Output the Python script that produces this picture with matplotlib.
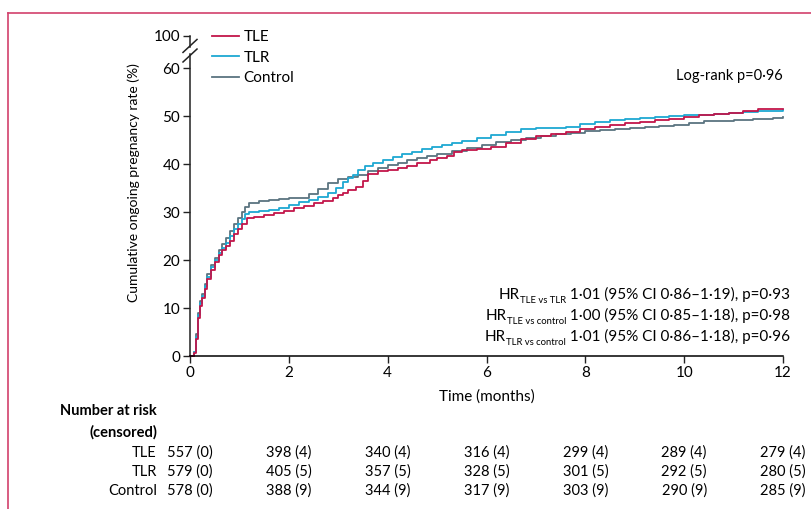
import matplotlib
matplotlib.use("Agg")
import matplotlib.pyplot as plt
from matplotlib.lines import Line2D
from matplotlib.transforms import blended_transform_factory
import numpy as np

plt.rcParams['font.family'] = ['Lato', 'DejaVu Sans']

# ---------------- data ----------------
tle_t = [0, 0.08, 0.12, 0.16, 0.2, 0.25, 0.3, 0.35, 0.42, 0.5, 0.58, 0.65, 0.73, 0.81, 0.9, 0.97,
         1.05, 1.15, 1.3, 1.5, 1.7, 1.9, 2.1, 2.3, 2.5, 2.7, 2.9, 3.0, 3.1, 3.2, 3.35, 3.5, 3.6,
         3.8, 4.0, 4.2, 4.4, 4.6, 4.85, 5.0, 5.2, 5.35, 5.5, 5.8, 6.1, 6.4, 6.7, 7.0, 7.3, 7.6,
         7.9, 8.2, 8.5, 8.8, 9.1, 9.4, 9.7, 10.0, 10.3, 10.6, 10.9, 11.2, 11.5, 12]
tle_v = [0, 0.6, 3.5, 8, 10.5, 12, 14, 16, 18, 19.5, 21, 22, 23, 24, 25.5, 26.5,
         27.5, 28.7, 29, 29.3, 29.8, 30.3, 30.8, 31.2, 31.8, 32.3, 32.9, 33.5, 34, 34.6, 35.3, 36.5, 38,
         38.5, 38.8, 39.1, 39.6, 40.2, 40.8, 41.2, 41.6, 42.4, 42.9, 43.2, 43.6, 44.3, 45.3, 45.8, 46.2, 46.7,
         47.2, 47.7, 48.2, 48.5, 48.8, 49.2, 49.4, 49.8, 50.2, 50.5, 50.7, 51.1, 51.4, 51.5]

tlr_t = [0, 0.08, 0.12, 0.16, 0.2, 0.25, 0.3, 0.35, 0.42, 0.5, 0.58, 0.65, 0.73, 0.81, 0.9, 0.97,
         1.05, 1.12, 1.2, 1.4, 1.6, 1.8, 2.0, 2.2, 2.4, 2.6, 2.8, 2.95, 3.1, 3.2, 3.3, 3.4, 3.55,
         3.7, 3.9, 4.1, 4.3, 4.5, 4.7, 4.9, 5.1, 5.3, 5.5, 5.8, 6.1, 6.4, 6.7, 7.0, 7.3, 7.6,
         7.9, 8.2, 8.5, 8.8, 9.1, 9.4, 9.7, 10.0, 10.3, 10.6, 10.9, 11.2, 11.5, 12]
tlr_v = [0, 0.8, 4, 8.5, 11, 12.5, 14.5, 16.5, 18.5, 20, 21.5, 22.5, 23.5, 25, 26.5, 27.5,
         28.5, 29.5, 30, 30.2, 30.4, 30.8, 31.5, 32, 32.5, 33.2, 34, 35, 36.2, 37, 37.7, 38.7, 39.5,
         40.3, 40.8, 41.5, 42, 42.6, 43.1, 43.6, 44, 44.4, 44.8, 45.4, 46, 46.6, 47.2, 47.5, 47.6, 47.8,
         48.3, 48.8, 49.2, 49.3, 49.5, 49.8, 50, 50.2, 50.3, 50.4, 50.6, 50.9, 51.1, 51.2]

ctl_t = [0, 0.08, 0.12, 0.16, 0.2, 0.25, 0.3, 0.35, 0.42, 0.5, 0.58, 0.65, 0.73, 0.81, 0.9, 0.97,
         1.05, 1.12, 1.2, 1.4, 1.6, 1.8, 2.0, 2.2, 2.4, 2.6, 2.8, 3.0, 3.2, 3.4, 3.6, 3.8, 4.0,
         4.2, 4.4, 4.6, 4.8, 5.0, 5.3, 5.6, 5.9, 6.2, 6.5, 6.8, 7.1, 7.4, 7.7, 8.0, 8.3, 8.6,
         8.9, 9.2, 9.5, 9.8, 10.1, 10.4, 10.7, 11.0, 11.4, 11.8, 12]
ctl_v = [0, 0.8, 4.5, 9, 11.5, 13, 15, 17, 19, 20.5, 22, 23.3, 24.5, 26, 27.5, 28.8,
         30, 31, 31.8, 32.2, 32.5, 32.7, 32.9, 33, 33.8, 34.8, 36, 36.8, 37.2, 37.7, 38.5, 39.2, 39.8,
         40.2, 40.8, 41.3, 41.7, 42.1, 42.8, 43.4, 44, 44.5, 45, 45.5, 45.9, 46.2, 46.5, 46.8, 47.1, 47.3,
         47.5, 47.7, 48, 48.2, 48.6, 48.9, 49, 49.2, 49.3, 49.6, 49.8]

group_names = ["TLE", "TLR", "Control"]
risk_times = [0, 2, 4, 6, 8, 10, 12]
at_risk_tle = [557, 398, 340, 316, 299, 289, 279]
cens_tle = [0, 4, 4, 4, 4, 4, 4]
at_risk_tlr = [579, 405, 357, 328, 301, 292, 280]
cens_tlr = [0, 5, 5, 5, 5, 5, 5]
at_risk_ctl = [578, 388, 344, 317, 303, 290, 285]
cens_ctl = [0, 9, 9, 9, 9, 9, 9]

ytick_vals = [0, 10, 20, 30, 40, 50, 60]
ytick_top_label = "100"
hr_subs = ["TLE vs TLR", "TLE vs control", "TLR vs control"]
hr_rest = [" 1·01 (95% CI 0·86–1·19), p=0·93",
           " 1·00 (95% CI 0·85–1·18), p=0·98",
           " 1·01 (95% CI 0·86–1·18), p=0·96"]

# ---------------- figure ----------------
W, H = 811, 509
fig = plt.figure(figsize=(W / 100, H / 100), dpi=100)
x0, x1 = 190, 783
yb, yt = 356, 35.5
ax = fig.add_axes([x0 / W, 1 - yb / H, (x1 - x0) / W, (yb - yt) / H])
px_per_unit = 4.8
Y100 = (yb - yt) / px_per_unit   # position of broken "100"
ax.set_xlim(0, 12)
ax.set_ylim(0, Y100)

c_tle = '#c3164a'
c_tlr = '#1ea8d2'
c_ctl = '#5b7480'
fs = 10.5

ax.plot(ctl_t, ctl_v, drawstyle='steps-post', color=c_ctl, lw=1.3, clip_on=False)
ax.plot(tlr_t, tlr_v, drawstyle='steps-post', color=c_tlr, lw=1.3, clip_on=False)
ax.plot(tle_t, tle_v, drawstyle='steps-post', color=c_tle, lw=1.3, clip_on=False)

for s in ['top', 'right', 'left']:
    ax.spines[s].set_visible(False)
ax.spines['bottom'].set_linewidth(1.1)

ax.set_xticks(risk_times)
ax.set_yticks(ytick_vals + [Y100])
ax.set_yticklabels([str(v) for v in ytick_vals] + [ytick_top_label])
ax.tick_params(direction='out', length=5, width=1, labelsize=fs + 0.5, pad=2, color='#222222')

# broken y axis spine
ytr = blended_transform_factory(ax.transAxes, ax.transData)
brk_lo, brk_hi = 62.6, 64.6
ax.add_line(Line2D([0, 0], [0, brk_lo + 0.3], transform=ytr, color='#222222', lw=1.1, clip_on=False))
ax.add_line(Line2D([0, 0], [brk_hi - 0.3, Y100], transform=ytr, color='#222222', lw=1.1, clip_on=False))
dx = 7 / (x1 - x0)
dy = 1.35
for yc in (brk_lo, brk_hi):
    ax.add_line(Line2D([-dx, dx], [yc - dy, yc + dy], transform=ytr, color='#222222', lw=1.1, clip_on=False))

ax.set_ylabel("Cumulative ongoing pregnancy rate (%)", fontsize=10)
ax.yaxis.set_label_coords((140 - x0) / (x1 - x0), (yb - 183) / (yb - yt))
ax.set_xlabel("Time (months)", fontsize=fs + 0.5, labelpad=7)

# legend
leg_handles = [Line2D([], [], color=c, lw=1.3) for c in (c_tle, c_tlr, c_ctl)]
ax.legend(leg_handles, group_names, loc='upper left', bbox_to_anchor=(16 / (x1 - x0), 1.035),
          frameon=False, fontsize=fs + 0.5, handlelength=1.75, handletextpad=0.3, labelspacing=0.42,
          borderaxespad=0)

ax.text(1.0, 1 - (76 - yt) / (yb - yt), "Log-rank p=0·96", transform=ax.transAxes,
        ha='right', va='center', fontsize=fs)

# HR lines
hr_ypix = [299, 320, 341]
for sub, rest, yp in zip(hr_subs, hr_rest, hr_ypix):
    ya = (yb - yp) / (yb - yt)
    t_rest = ax.text(1.012, ya, rest, transform=ax.transAxes, ha='right', va='baseline', fontsize=11)
    t_sub = ax.annotate(sub, xy=(0, ya - 4 / (yb - yt)), xycoords=(t_rest, ax.transAxes),
                        ha='right', va='baseline', fontsize=6.8)
    ax.annotate("HR", xy=(0, ya), xycoords=(t_sub, ax.transAxes),
                ha='right', va='baseline', fontsize=11)

# number at risk table
ftr = blended_transform_factory(ax.transData, fig.transFigure)
lab_x = 157 / W
fig.text(lab_x, 1 - 411 / H, "Number at risk", ha='right', va='center', fontsize=fs, fontweight='bold')
fig.text(lab_x, 1 - 432 / H, "(censored)", ha='right', va='center', fontsize=fs, fontweight='bold')
rows = [(at_risk_tle, cens_tle), (at_risk_tlr, cens_tlr), (at_risk_ctl, cens_ctl)]
row_y = [453, 472, 491]
for name, (nr, nc), yp in zip(group_names, rows, row_y):
    fig.text(lab_x, 1 - yp / H, name, ha='right', va='center', fontsize=fs)
    for t, n, c in zip(risk_times, nr, nc):
        ax.text(t, 1 - yp / H, f"{n} ({c})", transform=ftr, ha='center', va='center', fontsize=fs)

# frame lines (pink border)
border = '#d2416c'
fig.add_artist(Line2D([8 / W, 8 / W], [0, 1 - 13 / H], transform=fig.transFigure, color=border, lw=1.2))
fig.add_artist(Line2D([8 / W, 1], [1 - 13 / H, 1 - 13 / H], transform=fig.transFigure, color=border, lw=1.2))

fig.savefig("out.png", dpi=100)
